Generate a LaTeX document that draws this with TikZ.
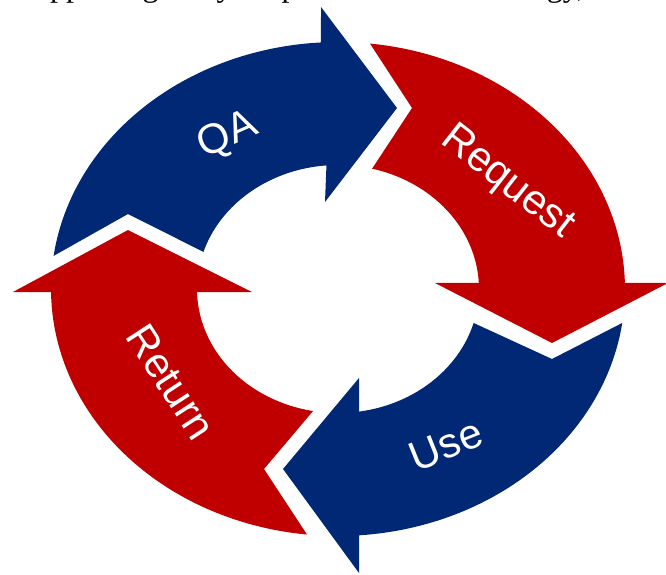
\documentclass[tikz,border=0pt]{standalone}
\usepackage{fontspec}
\setmainfont{Liberation Serif}
\newfontfamily\lblfont{Liberation Sans}
\definecolor{cyblue}{RGB}{0,40,116}
\definecolor{cyred}{RGB}{192,0,0}
\begin{document}
\begin{tikzpicture}[x=1pt,y=-1pt,
  bluearrow/.style={fill=cyblue},
  redarrow/.style={fill=cyred},
  lbl/.style={text=white, font=\lblfont\fontsize{42}{42}\selectfont, inner sep=0pt}]
\useasboundingbox (0,0) rectangle (666,575);
\def\cx{338}\def\cy{289}
\def\oa{287}\def\ob{247}\def\ia{141}\def\ib{124}
% QA (blue, top-left)
\fill[bluearrow] plot[domain=187.7:266.6, samples=50] ({\cx+\oa*cos(\x)},{\cy+\ob*sin(\x)})
  -- (321,7) -- (397,108) -- (325,202)
  -- plot[domain=265.3:197.4, samples=50] ({\cx+\ia*cos(\x)},{\cy+\ib*sin(\x)})
  -- (128,214) -- cycle;
% Request (red, top-right)
\fill[redarrow] plot[domain=276.4:358.6, samples=50] ({\cx+\oa*cos(\x)},{\cy+\ob*sin(\x)})
  -- (668,283) -- (552,343) -- (435,283)
  -- plot[domain=357.2:284, samples=50] ({\cx+\ia*cos(\x)},{\cy+\ib*sin(\x)})
  -- (412,108) -- cycle;
% Use (blue, bottom-right)
\fill[bluearrow] plot[domain=7.9:85.8, samples=50] ({\cx+\oa*cos(\x)},{\cy+\ob*sin(\x)})
  -- (359,573) -- (283,469) -- (359,378)
  -- plot[domain=81.4:15.9, samples=50] ({\cx+\ia*cos(\x)},{\cy+\ib*sin(\x)})
  -- (552,359) -- cycle;
% Return (red, bottom-left)
\fill[redarrow] plot[domain=96.2:179.3, samples=50] ({\cx+\oa*cos(\x)},{\cy+\ob*sin(\x)})
  -- (13,292) -- (128,230) -- (252,292)
  -- plot[domain=178.6:100.2, samples=50] ({\cx+\ia*cos(\x)},{\cy+\ib*sin(\x)})
  -- (264,469) -- cycle;
% labels
\node[lbl, rotate=24] (qa) at (228,136) {QA};
\node[lbl, rotate=-38] (req) at (507,183) {Request};
\node[lbl, rotate=22] (use) at (446,445) {Use};
\node[lbl, rotate=-57] (ret) at (171,382) {Return};
% cut-off text line at the top
\begin{scope}
\clip (0,0) rectangle (666,575);
\node[anchor=base west, inner sep=0pt, font=\fontsize{32}{32}\selectfont] (toptext) at (21.6,-3) {\hbox to 563pt{supporting my open source strategy,}};
\end{scope}
\end{tikzpicture}
\end{document}
